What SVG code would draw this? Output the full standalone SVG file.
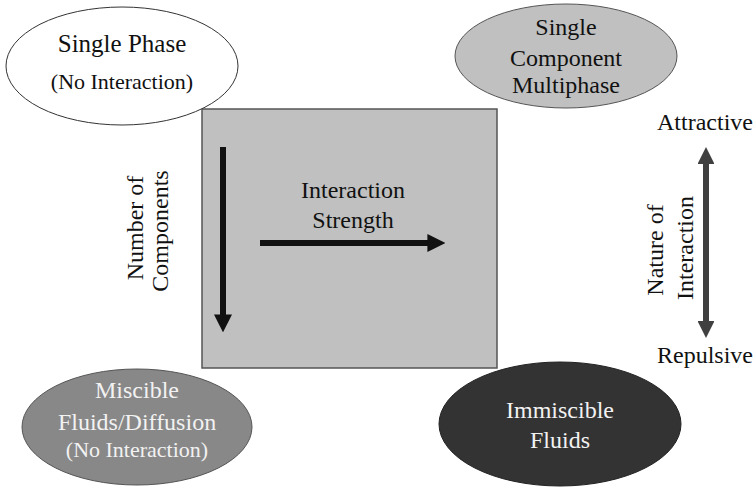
<svg xmlns="http://www.w3.org/2000/svg" width="756" height="487" viewBox="0 0 756 487">
<style>
text{font-size:24px;text-anchor:middle;fill:#111}
.small{font-size:22px}
.w{fill:#f2f2f2}
</style>
<defs>
<marker id="ah" markerWidth="3" markerHeight="3" refX="1.6" refY="1.5" orient="auto" markerUnits="strokeWidth" viewBox="0 0 3 3"><path d="M0,0 L3,1.5 L0,3 z" fill="#111"/></marker>
<marker id="ah2" markerWidth="2.8" markerHeight="2.8" refX="1.4" refY="1.4" orient="auto-start-reverse" markerUnits="strokeWidth" viewBox="0 0 2.8 2.8"><path d="M0,0 L2.8,1.4 L0,2.8 z" fill="#404040"/></marker>
</defs>
<rect x="0" y="0" width="756" height="487" fill="#fff"/>
<g font-family="'Liberation Serif', 'Times New Roman', serif">
<g id="square">
<rect x="202" y="109" width="295" height="259" fill="#c0c0c0" stroke="#555" stroke-width="1.5"/>
</g>
<g id="single-phase">
<ellipse cx="122" cy="66" rx="116" ry="59" fill="#fff" stroke="#333" stroke-width="1"/>
<text x="122" y="52" style="font-size:25px">Single Phase</text>
<text x="122" y="89" class="small">(No Interaction)</text>
</g>
<g id="single-component">
<ellipse cx="566" cy="56" rx="111" ry="52" fill="#c0c0c0" stroke="#555" stroke-width="1"/>
<text x="566" y="35">Single</text>
<text x="566" y="66">Component</text>
<text x="566" y="93">Multiphase</text>
</g>
<g id="miscible">
<ellipse cx="137" cy="427" rx="115" ry="58" fill="#888" stroke="#555" stroke-width="1"/>
<text x="137" y="398" class="w">Miscible</text>
<text x="137" y="430" class="w">Fluids/Diffusion</text>
<text x="137" y="457" class="w small">(No Interaction)</text>
</g>
<g id="immiscible">
<ellipse cx="560" cy="424" rx="121" ry="62" fill="#333" stroke="#222" stroke-width="1"/>
<text x="560" y="418" class="w">Immiscible</text>
<text x="560" y="448" class="w">Fluids</text>
</g>
<g id="labels">
<text x="705" y="130">Attractive</text>
<text x="705" y="363">Repulsive</text>
<text transform="translate(143,228) rotate(-90)">Number of</text>
<text transform="translate(168,231) rotate(-90)">Components</text>
<text transform="translate(663,250) rotate(-90)">Nature of</text>
<text transform="translate(693,248) rotate(-90)">Interaction</text>
<text x="353" y="198">Interaction</text>
<text x="353" y="228">Strength</text>
</g>
</g>
<g id="connectors">
<line x1="223" y1="147" x2="223" y2="324" stroke="#111" stroke-width="6" marker-end="url(#ah)"/>
<line x1="260" y1="243" x2="437" y2="243" stroke="#111" stroke-width="6" marker-end="url(#ah)"/>
<line x1="706" y1="155.5" x2="706" y2="329.5" stroke="#404040" stroke-width="6" marker-start="url(#ah2)" marker-end="url(#ah2)"/>
</g>
</svg>
